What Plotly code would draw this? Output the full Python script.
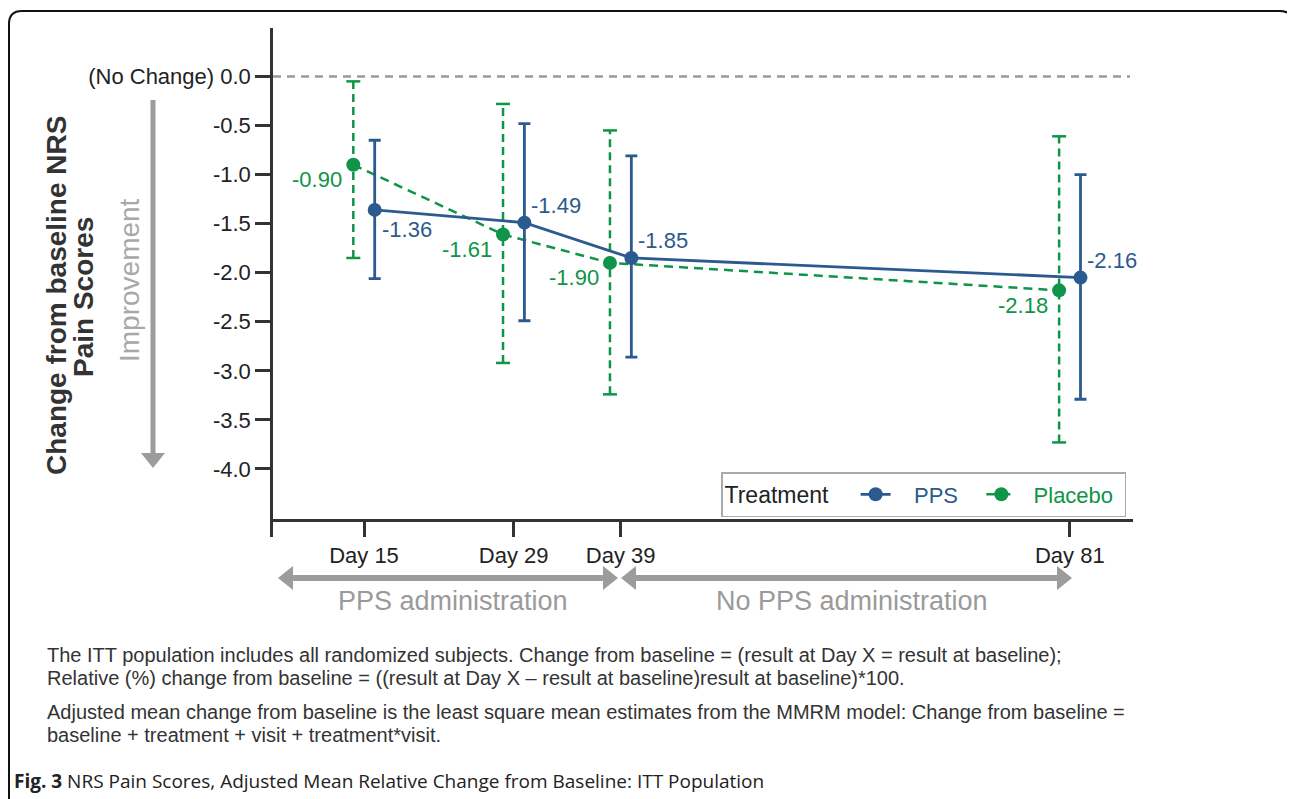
import plotly.graph_objects as go

# ---------------- data ----------------
days = [15, 29, 39, 81]
day_labels = ["Day 15", "Day 29", "Day 39", "Day 81"]

pps_mean = [-1.36, -1.49, -1.85, -2.05]
pps_labels = ["-1.36", "-1.49", "-1.85", "-2.16"]
pps_upper = [-0.65, -0.48, -0.81, -1.00]
pps_lower = [-2.06, -2.49, -2.86, -3.29]

placebo_mean = [-0.90, -1.61, -1.90, -2.18]
placebo_labels = ["-0.90", "-1.61", "-1.90", "-2.18"]
placebo_upper = [-0.05, -0.28, -0.55, -0.61]
placebo_lower = [-1.85, -2.92, -3.24, -3.73]

y_tick_vals = [0.0, -0.5, -1.0, -1.5, -2.0, -2.5, -3.0, -3.5, -4.0]
y_tick_text = ["(No Change) 0.0", "-0.5", "-1.0", "-1.5", "-2.0", "-2.5", "-3.0", "-3.5", "-4.0"]

# ---------------- style ----------------
BLUE = "#2B5B8E"
GREEN = "#0F9448"
GREY_ARROW = "#9C9C9C"
AXIS = "#333333"
DODGE = 1.0
NB = "\u00a0"

PAGE_OFF = 8            # browser body margin
FW, FH = 1295 - PAGE_OFF, 799 - PAGE_OFF
PL, PR, PT, PB = 273, 1133, 28, 537   # plot area in page pixels


def px(x):
    return (x - PL) / (PR - PL)


def py(y):
    return (PB - y) / (PB - PT)


pps_x = [d + DODGE for d in days]
pl_x = [d - DODGE for d in days]

fig = go.Figure()

# Placebo error bars (dashed) built from data
eb_x, eb_y = [], []
for x, lo, hi in zip(pl_x, placebo_lower, placebo_upper):
    eb_x += [x, x, None]
    eb_y += [lo, hi, None]
fig.add_trace(go.Scatter(x=eb_x, y=eb_y, mode="lines", showlegend=False, hoverinfo="skip",
                         line=dict(color=GREEN, width=2.5, dash="8px,5px")))
fig.add_trace(go.Scatter(x=pl_x + pl_x, y=placebo_lower + placebo_upper, mode="markers",
                         showlegend=False, hoverinfo="skip",
                         marker=dict(symbol="line-ew", size=10, line=dict(color=GREEN, width=2.5))))

# Placebo means
fig.add_trace(go.Scatter(x=pl_x, y=placebo_mean, mode="lines+markers",
                         name="<span style='color:%s'>%sPlacebo%s</span>" % (GREEN, NB * 2, NB),
                         line=dict(color=GREEN, width=2.5, dash="9px,6px"),
                         marker=dict(size=14, color=GREEN)))

# PPS with error bars
fig.add_trace(go.Scatter(x=pps_x, y=pps_mean, mode="lines+markers",
                         name="<span style='color:%s'>%sPPS%s</span>" % (BLUE, NB * 3, NB * 3),
                         line=dict(color=BLUE, width=2.8),
                         marker=dict(size=14, color=BLUE),
                         error_y=dict(type="data", symmetric=False,
                                      array=[u - m for u, m in zip(pps_upper, pps_mean)],
                                      arrayminus=[m - l for l, m in zip(pps_lower, pps_mean)],
                                      color=BLUE, thickness=2.8, width=6)))

annotations = []
# data labels
for x, y, t in zip(pl_x, placebo_mean, placebo_labels):
    annotations.append(dict(x=x, y=y, xref="x", yref="y", text=t, showarrow=False,
                            xanchor="right", yanchor="middle", xshift=-9, yshift=-15,
                            font=dict(size=22, color=GREEN)))
for i, (x, y, t) in enumerate(zip(pps_x, pps_mean, pps_labels)):
    annotations.append(dict(x=x, y=y, xref="x", yref="y", text=t, showarrow=False,
                            xanchor="left", yanchor="middle", xshift=5,
                            yshift=-20 if i == 0 else 17,
                            font=dict(size=22, color=BLUE)))

# y-axis titles
annotations.append(dict(x=px(56), y=py(296), xref="paper", yref="paper",
                        text="<b>Change from baseline NRS</b>", textangle=-90, showarrow=False,
                        font=dict(size=28, color="#333333"), xanchor="center", yanchor="middle"))
annotations.append(dict(x=px(83), y=py(297), xref="paper", yref="paper",
                        text="<b>Pain Scores</b>", textangle=-90, showarrow=False,
                        font=dict(size=28, color="#333333"), xanchor="center", yanchor="middle"))
annotations.append(dict(x=px(129), y=py(280), xref="paper", yref="paper",
                        text="Improvement", textangle=-90, showarrow=False,
                        font=dict(size=28, color="#A8A8A8"), xanchor="center", yanchor="middle"))

# bottom period labels
annotations.append(dict(x=px(453), y=py(601), xref="paper", yref="paper",
                        text="PPS administration", showarrow=False,
                        font=dict(size=27, color="#9A9A9A"), xanchor="center", yanchor="middle"))
annotations.append(dict(x=px(852), y=py(601), xref="paper", yref="paper",
                        text="No PPS administration", showarrow=False,
                        font=dict(size=27, color="#9A9A9A"), xanchor="center", yanchor="middle"))

# footnotes
notes = [
    (655, "The ITT population includes all randomized subjects. Change from baseline = (result at Day X = result at baseline);"),
    (678, "Relative (%) change from baseline = ((result at Day X \u2013 result at baseline)result at baseline)*100."),
    (712, "Adjusted mean change from baseline is the least square mean estimates from the MMRM model: Change from baseline ="),
    (735, "baseline + treatment + visit + treatment*visit."),
]
for yy, t in notes:
    annotations.append(dict(x=px(45), y=py(yy), xref="paper", yref="paper", text=t,
                            showarrow=False, xanchor="left", yanchor="middle",
                            font=dict(size=20, color="#333333", family="Liberation Sans, Arial")))
annotations.append(dict(x=px(12), y=py(781), xref="paper", yref="paper",
                        text="<b>Fig. 3</b> NRS Pain Scores, Adjusted Mean Relative Change from Baseline: ITT Population",
                        showarrow=False, xanchor="left", yanchor="middle",
                        font=dict(size=19, color="#222222", family="Open Sans")))

shapes = []
# zero reference line
shapes.append(dict(type="line", xref="paper", yref="y", x0=0, x1=px(1130), y0=0, y1=0,
                   line=dict(color="#9A9A9A", width=2.5, dash="8px,6px")))

# improvement arrow
shapes.append(dict(type="line", xref="paper", yref="paper", x0=px(153), x1=px(153),
                   y0=py(100), y1=py(455), line=dict(color=GREY_ARROW, width=5)))
shapes.append(dict(type="path", xref="paper", yref="paper",
                   path="M %f %f L %f %f L %f %f Z" % (px(141), py(453), px(165), py(453), px(153), py(468)),
                   fillcolor=GREY_ARROW, line=dict(width=0)))


def double_arrow(x0, x1, y):
    out = [dict(type="line", xref="paper", yref="paper", x0=px(x0 + 10), x1=px(x1 - 10),
                y0=py(y), y1=py(y), line=dict(color=GREY_ARROW, width=6))]
    out.append(dict(type="path", xref="paper", yref="paper",
                    path="M %f %f L %f %f L %f %f Z" % (px(x0), py(y), px(x0 + 15), py(y - 12), px(x0 + 15), py(y + 12)),
                    fillcolor=GREY_ARROW, line=dict(width=0)))
    out.append(dict(type="path", xref="paper", yref="paper",
                    path="M %f %f L %f %f L %f %f Z" % (px(x1), py(y), px(x1 - 15), py(y - 12), px(x1 - 15), py(y + 12)),
                    fillcolor=GREY_ARROW, line=dict(width=0)))
    return out


shapes += double_arrow(278, 618, 578)
shapes += double_arrow(621, 1072, 578)

# outer rounded frame (open at bottom)
shapes.append(dict(type="path", xref="paper", yref="paper",
                   path="M %f %f L %f %f Q %f %f %f %f L %f %f Q %f %f %f %f L %f %f" % (
                       px(9), py(810), px(9), py(24),
                       px(9), py(11), px(22), py(11),
                       px(1280), py(11),
                       px(1293), py(11), px(1293), py(24),
                       px(1293), py(810)),
                   line=dict(color="#111111", width=2)))

fig.update_layout(
    width=FW, height=FH,
    margin=dict(l=PL - PAGE_OFF, r=1295 - PR, t=PT - PAGE_OFF, b=799 - PB),
    paper_bgcolor="white", plot_bgcolor="white",
    font=dict(family="Liberation Sans, Arial, sans-serif", size=22, color="#222222"),
    xaxis=dict(range=[6.49, 86.91], tickvals=days, ticktext=day_labels,
               showgrid=False, zeroline=False, showline=True, linecolor=AXIS, linewidth=2.5,
               ticks="outside", ticklen=15, tickwidth=2.5, tickcolor=AXIS,
               anchor="free", position=py(520),
               tickfont=dict(size=22, color="#222222")),
    yaxis=dict(range=[-4.694, 0.494], tickvals=y_tick_vals, ticktext=y_tick_text,
               showgrid=False, zeroline=False, showline=True, linecolor=AXIS, linewidth=2.5,
               ticks="outside", ticklen=15, tickwidth=2.5, tickcolor=AXIS,
               tickfont=dict(size=22, color="#222222")),
    legend=dict(orientation="h", x=px(721), y=py(472), xanchor="left", yanchor="top",
                title=dict(text="Treatment" + NB * 3, font=dict(size=23, color="#222222"), side="left"),
                bordercolor="#AAAAAA", borderwidth=1.5, bgcolor="white",
                font=dict(size=22), traceorder="reversed", itemwidth=30),
    annotations=annotations,
    shapes=shapes,
    showlegend=True,
)

fig.write_html("out.html")
